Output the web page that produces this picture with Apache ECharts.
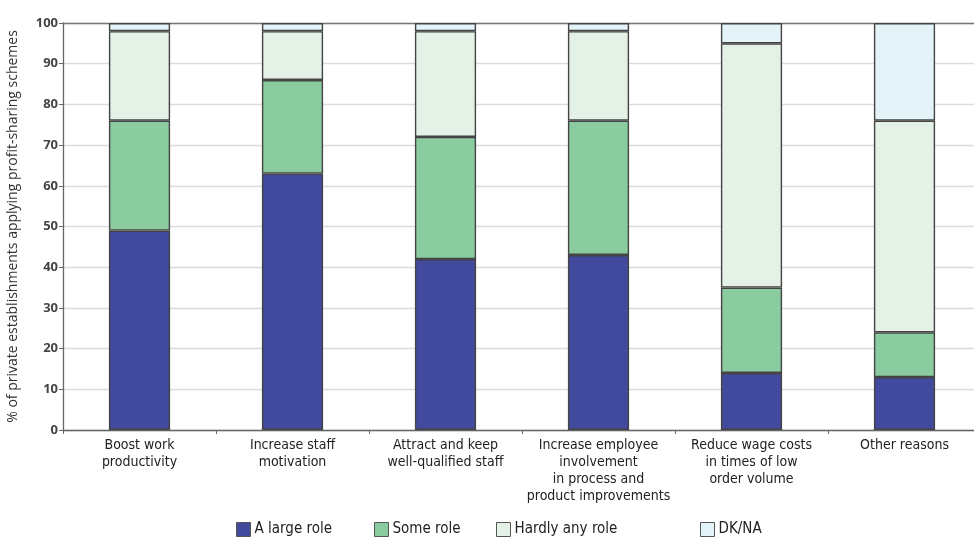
<!DOCTYPE html>
<html>
<head>
<meta charset="utf-8">
<script src="https://cdn.jsdelivr.net/npm/echarts@6/dist/echarts.min.js"></script>
<style>html,body{margin:0;padding:0;background:#fff}#c{width:974px;height:538px}</style>
</head>
<body>
<div id="c"></div>
<script>
var categories = [
  "Boost work\nproductivity",
  "Increase staff\nmotivation",
  "Attract and keep\nwell-qualified staff",
  "Increase employee\ninvolvement\nin process and\nproduct improvements",
  "Reduce wage costs\nin times of low\norder volume",
  "Other reasons"
];
var seriesNames = ["A large role", "Some role", "Hardly any role", "DK/NA"];
var largeRole = [49, 63, 42, 43, 14, 13];
var someRole = [27, 23, 30, 33, 21, 11];
var hardlyAnyRole = [22, 12, 26, 22, 60, 52];
var dkNa = [2, 2, 2, 2, 5, 24];
var yTicks = [0, 10, 20, 30, 40, 50, 60, 70, 80, 90, 100];

var colors = ["#414a9c", "#8acc9f", "#e3f1e7", "#e4f3f8"];
var values = [largeRole, someRole, hardlyAnyRole, dkNa];
var legendLeft = [236, 374, 496, 700];

var chart = echarts.init(document.getElementById('c'));
var series = seriesNames.map(function (n, i) {
  return {
    name: n, type: 'bar', stack: 'all', data: values[i], barWidth: '40%',
    itemStyle: { color: colors[i], borderColor: '#444', borderWidth: 1.4 }
  };
});
var legends = seriesNames.map(function (n, i) {
  return {
    data: [n], left: legendLeft[i], top: 522, padding: 0, itemWidth: 14, itemHeight: 14, itemGap: 4,
    icon: 'rect',
    itemStyle: { borderColor: '#555', borderWidth: 1 },
    textStyle: { fontFamily: 'DejaVu Sans Condensed, sans-serif', fontSize: 15, color: '#222', padding: [0, 0, 0, -1] }
  };
});
chart.setOption({
  animation: false,
  legend: legends,
  grid: { left: 63, top: 23, width: 918, bottom: 108, containLabel: false, outerBoundsMode: 'none' },
  xAxis: [{
    type: 'category', data: categories,
    axisLine: { lineStyle: { color: '#666', width: 1.3 } },
    axisTick: { show: true, length: 4, lineStyle: { color: '#666' } },
    axisLabel: { fontFamily: 'DejaVu Sans Condensed, sans-serif', fontSize: 14, color: '#222', lineHeight: 17, margin: 7, interval: 0 }
  }, {
    type: 'category', data: categories, position: 'top',
    axisLine: { show: true, lineStyle: { color: '#777', width: 1.3 } },
    axisTick: { show: false }, axisLabel: { show: false }
  }],
  yAxis: {
    type: 'value', min: 0, max: 100, interval: 10,
    name: '% of private establishments applying profit-sharing schemes',
    nameLocation: 'middle', nameGap: 43,
    nameTextStyle: { fontFamily: 'Open Sans, sans-serif', fontSize: 14, color: '#333' },
    axisLine: { show: true, lineStyle: { color: '#666', width: 1.3 } },
    axisTick: { show: true, length: 4, lineStyle: { color: '#666' } },
    splitLine: { lineStyle: { color: '#dcdcdc', width: 1.3 } },
    axisLabel: {
      fontFamily: 'Open Sans, sans-serif', fontWeight: 'bold', fontSize: 13, color: '#444', margin: 5,
      formatter: function (v) { return yTicks.indexOf(v) >= 0 ? String(v) : ''; }
    }
  },
  series: series
});
</script>
</body>
</html>
